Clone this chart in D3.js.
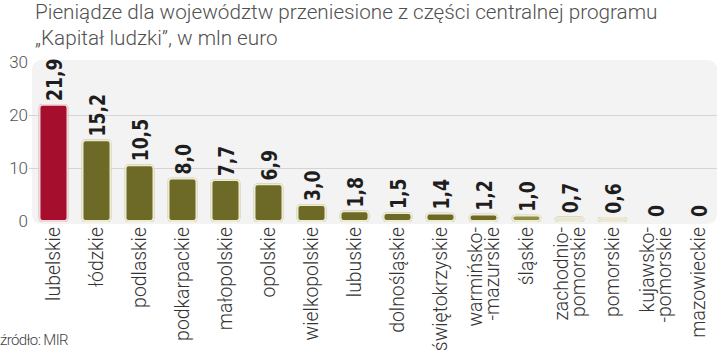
<!DOCTYPE html>
<html><head><meta charset="utf-8">
<script src="https://cdn.jsdelivr.net/npm/d3@7"></script>
<style>body{margin:0;background:#fff}svg{display:block}</style>
</head><body>
<svg id="c" width="720" height="351"></svg>
<script>
const categories = [["lubelskie"],["łódzkie"],["podlaskie"],["podkarpackie"],["małopolskie"],["opolskie"],["wielkopolskie"],["lubuskie"],["dolnośląskie"],["świętokrzyskie"],["warmińsko-","-mazurskie"],["śląskie"],["zachodnio-","pomorskie"],["pomorskie"],["kujawsko-","-pomorskie"],["mazowieckie"]];
const values = [21.9,15.2,10.5,8.0,7.7,6.9,3.0,1.8,1.5,1.4,1.2,1.0,0.7,0.6,0,0];
const valueLabels = ["21,9","15,2","10,5","8,0","7,7","6,9","3,0","1,8","1,5","1,4","1,2","1,0","0,7","0,6","0","0"];
const yTicks = [0,10,20,30];
const titleLines = ["Pieniądze dla województw przeniesione z części centralnej programu","„Kapitał ludzki”, w mln euro"];
const source = "źródło: MIR";

const svg = d3.select("#c");
const keys = categories.map((c,i)=>i);
const x = d3.scaleBand().domain(keys).range([32,720]).paddingInner(0.33).paddingOuter(0.165);
const y = d3.scaleLinear().domain([0,30]).range([221,62]);

// title
svg.append("g").selectAll("text").data(titleLines).join("text")
  .attr("x",35).attr("y",(d,i)=>19+i*26)
  .attr("font-family","Roboto, 'Noto Sans', sans-serif").attr("font-weight",300)
  .attr("font-size",20.7).attr("fill","#505050").text(d=>d);

// background
svg.append("rect").attr("x",32).attr("y",60).attr("width",685).attr("height",164).attr("rx",9)
  .attr("fill","#f3f3f3");

// grid
svg.append("g").selectAll("line").data(yTicks.filter(d=>d>0&&d<30)).join("line")
  .attr("x1",29).attr("x2",717).attr("y1",d=>Math.round(y(d))+0.5).attr("y2",d=>Math.round(y(d))+0.5)
  .attr("stroke","#d4d4d4").attr("stroke-width",1.2);

// y axis labels
const yAxis = d3.axisLeft(y).tickValues(yTicks).tickSize(0).tickPadding(0);
const ya = svg.append("g").attr("transform","translate(28,0)").call(yAxis);
ya.select(".domain").remove();
ya.selectAll("text").attr("font-family","Roboto, 'Noto Sans', sans-serif").attr("font-weight",300)
  .attr("font-size",17).attr("fill","#555");

// bars
const barG = svg.append("g");
barG.selectAll("rect").data(values).join("rect")
  .attr("x",(d,i)=>x(i)+0.5).attr("width",x.bandwidth()-1)
  .attr("y",d=>y(d)).attr("height",d=>d>0?Math.max(0,y(0)-y(d)):0)
  .attr("rx",3)
  .attr("fill",(d,i)=>i===0?"#a50e2d":(d<0.9?"#e6e4da":(d<1.1?"#8f8d48":"#6c6a26")))
  .attr("stroke",(d,i)=>i===0?"#f5d6d8":"#efeccd").attr("stroke-width",1.8)
  .style("filter","drop-shadow(0 0 0.6px #999)");

// value labels
svg.append("g").selectAll("text").data(values).join("text")
  .attr("transform",(d,i)=>`translate(${x(i)+x.bandwidth()/2+8.5},${y(d)-4}) rotate(-90) scale(0.87,1)`)
  .attr("font-family","'DejaVu Sans Condensed','DejaVu Sans',sans-serif").attr("font-weight","bold")
  .attr("font-size",22).attr("fill","#1e1e1e").attr("text-anchor","start")
  .text((d,i)=>valueLabels[i]);

// category labels
const cg = svg.append("g").selectAll("g").data(categories).join("g")
  .attr("transform",(d,i)=>`translate(${x(i)+x.bandwidth()/2},227) rotate(-90)`);
cg.selectAll("text").data(d=>d.map((t,j)=>({t,j,n:d.length}))).join("text")
  .attr("x",0).attr("y",d=>(d.j-(d.n-1)/2)*17.5).attr("dy","0.36em")
  .attr("text-anchor","end")
  .attr("font-family","Roboto, 'Noto Sans', sans-serif").attr("font-weight",300)
  .attr("font-size",19.4).attr("fill","#333").text(d=>d.t);

// source
svg.append("text").attr("x",0).attr("y",345).attr("font-family","Roboto, 'Noto Sans', sans-serif")
  .attr("font-weight",300).attr("font-size",15).attr("letter-spacing",-0.6).attr("fill","#444").text(source);
</script>
</body></html>
